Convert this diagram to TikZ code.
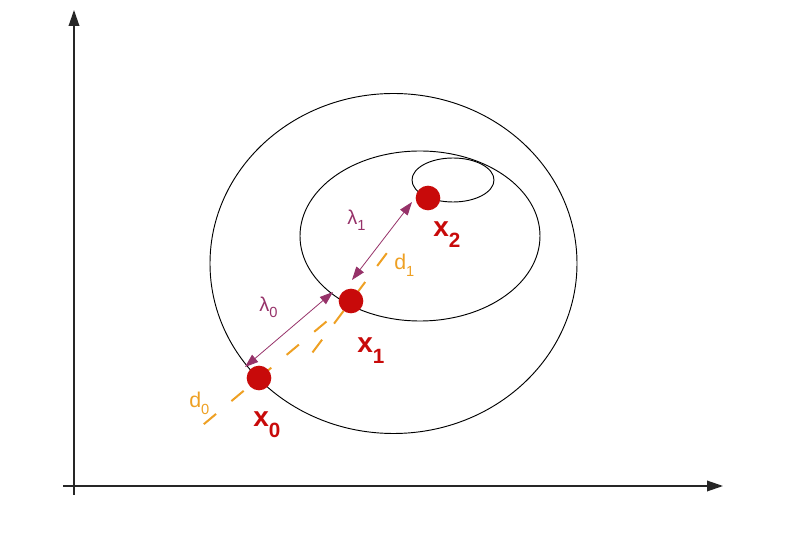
\documentclass[tikz,border=0pt]{standalone}
\usepackage{fontspec}
\setmainfont{Liberation Sans}
\usetikzlibrary{arrows.meta, calc}
\definecolor{pontovermelho}{RGB}{200,10,10}
\definecolor{passoroxo}{RGB}{150,50,105}
\definecolor{direcaolaranja}{RGB}{238,160,35}
\newcommand{\subbaixo}[3]{\raisebox{-#1}{\fontsize{#2}{#2}\selectfont #3}}
\tikzset{
    curva/.style={draw=black, line width=0.7pt},
    eixo/.style={-{Triangle[length=12pt,width=8pt]}, line width=1pt, draw=black!85},
    ponto/.style={circle, fill=pontovermelho, minimum size=18.5pt, inner sep=0pt},
    passo/.style={{Triangle[length=10pt,width=7pt]}-{Triangle[length=10pt,width=7pt]}, draw=passoroxo, line width=0.6pt},
    direcao/.style={draw=direcaolaranja, line width=1.5pt, dash pattern=on 12pt off 15pt},
    rotulo/.style={anchor=base west, inner sep=0pt}
}

\begin{document}
\begin{tikzpicture}[x=0.75pt, y=-0.75pt]
    \useasboundingbox (0,0) rectangle (794,534);

    % Eixos
    \coordinate (ybase) at (74,495);
    \coordinate (ytopo) at (74,10);
    \coordinate (xbase) at (63,486);
    \coordinate (xfim) at (723,486);
    \draw[eixo] (ybase) -- (ytopo);
    \draw[eixo] (xbase) -- (xfim);

    % Curvas de nivel
    \draw[curva] (393.5,263.5) ellipse (183.5 and 170);
    \draw[curva] (420,236) ellipse (120 and 85);
    \draw[curva] (453,180) ellipse (41 and 22);

    % Centros dos pontos
    \coordinate (c0) at (259,378);
    \coordinate (c1) at (351,301);
    \coordinate (c2) at (428,198);

    % Direcoes (tracejadas)
    \draw[direcao] ($(c0)!-0.6!(c1)$) -- (c1);
    \draw[direcao] ($(c1)!-0.5!(c2)$) -- ($(c1)!0.55!(c2)$);

    % Passos
    \coordinate (l0a) at (245,367);
    \coordinate (l0b) at (333,292);
    \coordinate (l1a) at (352,280);
    \coordinate (l1b) at (412,202);
    \draw[passo] (l0a) -- (l0b);
    \draw[passo] (l1a) -- (l1b);

    % Pontos
    \node[ponto] (p0) at (c0) {};
    \node[ponto] (p1) at (c1) {};
    \node[ponto] (p2) at (c2) {};

    % Rotulos
    \tikzset{
        rotx/.style={rotulo, text=pontovermelho, font=\bfseries\fontsize{21}{21}\selectfont},
        rotl/.style={rotulo, text=passoroxo, font=\fontsize{15}{15}\selectfont},
        rotd/.style={rotulo, text=direcaolaranja, font=\fontsize{16}{16}\selectfont}
    }
    \node[rotx] (x0) at (253,427) {x\subbaixo{8pt}{15.5}{0}};
    \node[rotx] (x1) at (357,353) {x\subbaixo{8pt}{15.5}{1}};
    \node[rotx] (x2) at (433,237) {x\subbaixo{8pt}{15.5}{2}};
    \node[rotl] (lam0) at (259,312) {λ\subbaixo{4pt}{11}{0}};
    \node[rotl] (lam1) at (347,225) {λ\subbaixo{4pt}{11}{1}};
    \node[rotd] (d0) at (189,408) {d\subbaixo{5pt}{11}{0}};
    \node[rotd] (d1) at (394,270) {d\subbaixo{5pt}{11}{1}};
\end{tikzpicture}
\end{document}
